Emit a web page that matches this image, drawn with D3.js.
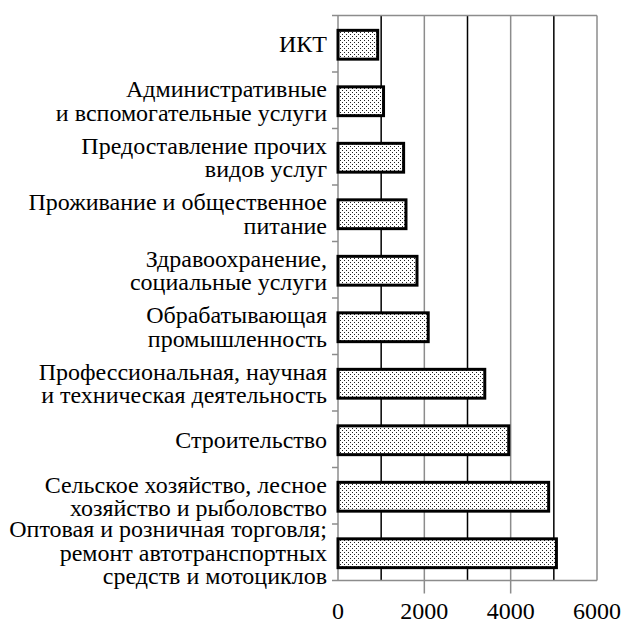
<!DOCTYPE html>
<html>
<head>
<meta charset="utf-8">
<script src="https://cdn.jsdelivr.net/npm/d3@7"></script>
</head>
<body style="margin:0">
<svg id="chart" width="624" height="623"></svg>
<script>
// categories, top to bottom
const categories = [
  "ИКТ",
  "Административные\nи вспомогательные услуги",
  "Предоставление прочих\nвидов услуг",
  "Проживание и общественное\nпитание",
  "Здравоохранение,\nсоциальные услуги",
  "Обрабатывающая\nпромышленность",
  "Профессиональная, научная\nи техническая деятельность",
  "Строительство",
  "Сельское хозяйство, лесное\nхозяйство и рыболовство",
  "Оптовая и розничная торговля;\nремонт автотранспортных\nсредств и мотоциклов"
]
const values = [920, 1055, 1520, 1575, 1830, 2090, 3400, 3955, 4880, 5060]
const xTicks = [0, 2000, 4000, 6000]
const xGrid = [1000, 2000, 3000, 4000, 5000, 6000]

const data = categories.map((c, i) => ({cat: c, value: values[i]}))

const svg = d3.select('#chart')
const margin = {top: 15.5, right: 27, bottom: 42.5, left: 338}
const W = 624, H = 623

const x = d3.scaleLinear()
  .domain([0, 6000])
  .range([margin.left, W - margin.right])

const y = d3.scaleBand()
  .domain(categories)
  .range([margin.top, H - margin.bottom])
  .paddingInner(0.49)
  .paddingOuter(0.245)

const plotTop = margin.top, plotBottom = H - margin.bottom

// category labels, one text per line, right aligned by measuring
const lineH = 23.5
const lines = data.flatMap(d => {
  const parts = d.cat.split('\n')
  const cy = y(d.cat) + y.bandwidth() / 2 + 1
  return parts.map((t, i) => ({t, cy, i, n: parts.length}))
})
svg.selectAll(null).data(lines).enter().append('text')
  .style('font-family', '"Liberation Serif"')
  .style('font-size', '24px')
  .attr('y', d => d.cy - (d.n - 1) * lineH / 2 + d.i * lineH + 7.5)
  .text(d => d.t)
  .attr('x', function() { return 327 - this.getComputedTextLength() })

// x tick labels
const fmt = d3.format('d')
svg.selectAll(null).data(xTicks).enter().append('text')
  .style('font-family', '"Liberation Serif"')
  .style('font-size', '24px')
  .attr('y', plotBottom + 38)
  .text(d => fmt(d))
  .attr('x', function(d) { return x(d) - this.getComputedTextLength() / 2 })

// vertical gridlines: odd thousands black, even gray
svg.selectAll(null).data(xGrid).enter().append('line')
  .attr('x1', d => x(d)).attr('x2', d => x(d))
  .attr('y1', plotTop)
  .attr('y2', d => (d % 2000 === 0 && d !== 6000) ? plotBottom + 13 : plotBottom)
  .attr('stroke', d => d % 2000 === 0 ? '#8c8c8c' : '#000')
  .attr('stroke-width', 1.5)

// plot frame lines (top, bottom, y axis)
svg.append('line')
  .attr('x1', margin.left - 6).attr('x2', x(6000))
  .attr('y1', plotTop).attr('y2', plotTop)
  .attr('stroke', '#8c8c8c').attr('stroke-width', 1.5)
svg.append('line')
  .attr('x1', margin.left - 6).attr('x2', x(6000))
  .attr('y1', plotBottom).attr('y2', plotBottom)
  .attr('stroke', '#8c8c8c').attr('stroke-width', 1.5)
svg.append('line')
  .attr('x1', x(0)).attr('x2', x(0))
  .attr('y1', plotTop).attr('y2', plotBottom)
  .attr('stroke', '#8c8c8c').attr('stroke-width', 1.5)

// category boundary ticks
const step = y.step()
svg.selectAll(null).data(d3.range(1, categories.length)).enter().append('line')
  .attr('x1', margin.left - 6).attr('x2', margin.left)
  .attr('y1', i => plotTop + i * step).attr('y2', i => plotTop + i * step)
  .attr('stroke', '#8c8c8c').attr('stroke-width', 1.5)

// dot pattern
const defs = svg.append('defs')
const pat = defs.append('pattern')
  .attr('id', 'dots')
  .attr('patternUnits', 'userSpaceOnUse')
  .attr('width', 4).attr('height', 4)
pat.append('rect').attr('width', 4).attr('height', 4).attr('fill', '#fff')
pat.append('rect').attr('x', 0).attr('y', 0).attr('width', 1).attr('height', 1).attr('fill', '#222')
pat.append('rect').attr('x', 2).attr('y', 2).attr('width', 1).attr('height', 1).attr('fill', '#222')

// bars
svg.selectAll(null).data(data).enter().append('rect')
  .attr('x', x(0))
  .attr('y', d => y(d.cat) + 1)
  .attr('width', d => x(d.value) - x(0))
  .attr('height', y.bandwidth())
  .attr('fill', 'url(#dots)')
  .attr('stroke', '#000')
  .attr('stroke-width', 3)
</script>
</body>
</html>
